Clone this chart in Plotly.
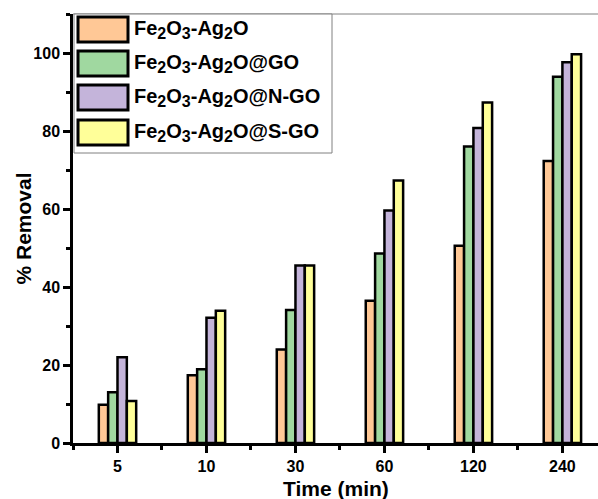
import plotly.graph_objects as go

categories = ["5", "10", "30", "60", "120", "240"]
SUB = '<sub><span style="font-size:16px">{}</span></sub>'
base = "Fe" + SUB.format("2") + "O" + SUB.format("3") + "-Ag" + SUB.format("2") + "O"
series_names = [base, base + "@GO", base + "@N-GO", base + "@S-GO"]
fe2o3_ag2o = [9.8, 17.4, 24.0, 36.5, 50.6, 72.3]
fe2o3_ag2o_go = [13.0, 18.9, 34.1, 48.6, 76.0, 93.9]
fe2o3_ag2o_ngo = [22.0, 32.1, 45.5, 59.6, 80.8, 97.6]
fe2o3_ag2o_sgo = [10.8, 33.9, 45.5, 67.3, 87.3, 99.7]
series_values = [fe2o3_ag2o, fe2o3_ag2o_go, fe2o3_ag2o_ngo, fe2o3_ag2o_sgo]
colors = ["#FFC896", "#A0D8A0", "#C4B4DA", "#FFFF99"]

FONT = "Arial, Liberation Sans, sans-serif"
L, T, B = 73, 14, 56
W, H = 598, 499
ph = H - T - B
pw = W - L

xs = list(range(len(categories)))
fig = go.Figure()
for name, vals, col in zip(series_names, series_values, colors):
    fig.add_trace(go.Bar(
        x=xs, y=vals, name=name,
        marker=dict(color=col, line=dict(color="black", width=2.5)),
        showlegend=False,
    ))


def px_x(p):
    return (p - L) / pw


def px_y(p):
    return (H - B - p) / ph


shapes = []
annotations = []
# top border
shapes.append(dict(type="line", xref="paper", yref="paper", x0=0, x1=1, y0=1, y1=1,
                   line=dict(color="#808080", width=1)))
# legend box
shapes.append(dict(type="rect", xref="paper", yref="paper",
                   x0=px_x(74), x1=px_x(332), y0=px_y(153), y1=px_y(14),
                   line=dict(color="#808080", width=1), fillcolor="white", layer="above"))
sw_tops = [17, 51, 85, 120]
for i, (name, col) in enumerate(zip(series_names, colors)):
    t = sw_tops[i]
    shapes.append(dict(type="rect", xref="paper", yref="paper",
                       x0=px_x(78), x1=px_x(128), y0=px_y(t + 25), y1=px_y(t),
                       line=dict(color="black", width=3), fillcolor=col, layer="above"))
    annotations.append(dict(xref="paper", yref="paper", x=px_x(132), y=px_y(t + 12),
                            xanchor="left", yanchor="middle", showarrow=False,
                            text="<b>" + name + "</b>",
                            font=dict(family=FONT, size=20, color="black")))

# axis titles
annotations.append(dict(xref="paper", yref="paper", x=px_x(23), y=0.5, textangle=-90,
                        xanchor="center", yanchor="middle", showarrow=False,
                        text="<b>% Removal</b>", font=dict(family=FONT, size=21, color="black")))
annotations.append(dict(xref="paper", yref="paper", x=0.5, y=px_y(489),
                        xanchor="center", yanchor="middle", showarrow=False,
                        text="<b>Time (min)</b>", font=dict(family=FONT, size=21, color="black")))

fig.update_layout(
    width=W, height=H,
    margin=dict(l=L, r=0, t=T, b=B, pad=0),
    paper_bgcolor="white", plot_bgcolor="white",
    barmode="group", bargap=0.58, bargroupgap=0,
    shapes=shapes, annotations=annotations,
    font=dict(family=FONT, color="black"),
    xaxis=dict(
        range=[-0.5, 5.4], tickvals=xs, ticktext=categories,
        showgrid=False, zeroline=False, showline=True, linecolor="black", linewidth=2.5,
        ticks="outside", ticklen=7, tickwidth=2.5, tickcolor="black",
        tickfont=dict(family=FONT, size=16, color="black", weight="bold"),
        minor=dict(tick0=0.5, dtick=1, ticks="outside", ticklen=4, tickwidth=2.5, tickcolor="black"),
    ),
    yaxis=dict(
        range=[0, 110], tickvals=[0, 20, 40, 60, 80, 100],
        showgrid=False, zeroline=False, showline=True, linecolor="black", linewidth=2.5,
        ticks="outside", ticklen=7, tickwidth=2.5, tickcolor="black",
        tickfont=dict(family=FONT, size=16, color="black", weight="bold"),
        minor=dict(tick0=0, dtick=10, ticks="outside", ticklen=4, tickwidth=2.5, tickcolor="black"),
    ),
)

fig.write_html("out.html")
